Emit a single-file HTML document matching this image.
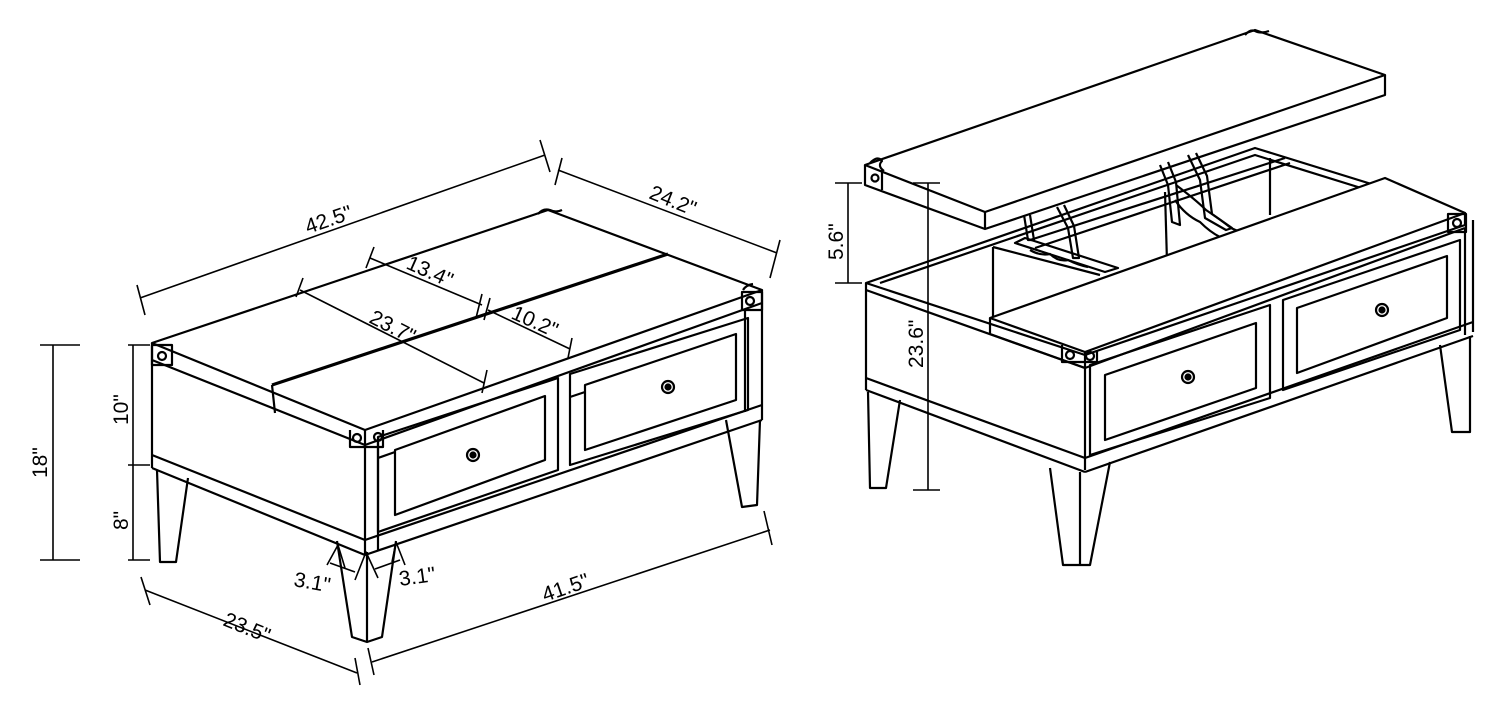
<!DOCTYPE html>
<html><head><meta charset="utf-8"><style>
html,body{margin:0;padding:0;background:#fff;}
svg{display:block}
text{font-family:"Liberation Sans",Arial,sans-serif;font-size:21px;fill:#000}
</style></head><body>
<svg width="1500" height="720" viewBox="0 0 1500 720" xmlns="http://www.w3.org/2000/svg">
<g fill="none" stroke="#000" stroke-width="2.2" stroke-linejoin="round">
<!-- ===== LEFT TABLE ===== -->
<polygon points="152,343 548,210 762,290 365,430" fill="#fff"/>
<line x1="272" y1="385" x2="668" y2="254" stroke-width="3.2"/>
<polyline points="152,343 152,360 365,445 762,303 762,290"/>
<line x1="365" y1="430" x2="365" y2="445"/>
<line x1="272" y1="385" x2="275" y2="413"/>
<rect x="152" y="345" width="20" height="20"/>
<circle cx="162" cy="356" r="4"/>
<path d="M350,430 L350,447 L383,447 L383,430"/>
<circle cx="357" cy="438" r="4"/><circle cx="378" cy="437" r="4"/>
<rect x="742" y="292" width="20" height="18"/>
<circle cx="750" cy="301" r="4"/>
<path d="M538,214 q5,-6 12,-4 q6,3 12,0"/>
<path d="M743,290 q3,-5 10,-6"/>
<line x1="152" y1="360" x2="152" y2="468"/>
<line x1="365" y1="445" x2="365" y2="555"/>
<line x1="152" y1="455" x2="365" y2="540"/>
<line x1="152" y1="468" x2="365" y2="555"/>
<line x1="378" y1="442" x2="378" y2="550"/>
<line x1="762" y1="303" x2="762" y2="420"/>
<line x1="365" y1="540" x2="762" y2="405"/>
<line x1="365" y1="555" x2="762" y2="420"/>
<line x1="745" y1="310" x2="745" y2="412"/>
<polygon points="378,437 558,378 558,470 378,532"/>
<polygon points="395,450 545,396 545,460 395,515"/>
<polygon points="570,374 748,318 748,410 570,465"/>
<polygon points="585,385 736,334 736,400 585,450"/>
<line x1="378" y1="458" x2="395" y2="452"/>
<line x1="570" y1="397" x2="585" y2="392"/>
<circle cx="473" cy="455" r="6"/><circle cx="473" cy="455" r="2.5" fill="#000"/>
<circle cx="668" cy="387" r="6"/><circle cx="668" cy="387" r="2.5" fill="#000"/>
<polyline points="157,470 160,562 176,562 188,478"/>
<polyline points="337,541 352,637 367,642 382,637 396,541"/>
<line x1="367" y1="552" x2="367" y2="642"/>
<polyline points="726,420 742,507 757,505 760,420"/>
<g stroke-width="1.6">
<line x1="140" y1="298" x2="545" y2="155"/>
<line x1="137" y1="285" x2="145" y2="315"/><line x1="540" y1="140" x2="550" y2="172"/>
<line x1="558" y1="170" x2="777" y2="253"/>
<line x1="562" y1="158" x2="555" y2="185"/><line x1="780" y1="240" x2="770" y2="278"/>
<line x1="370" y1="258" x2="482" y2="305"/>
<line x1="374" y1="247" x2="366" y2="268"/><line x1="482" y1="294" x2="476" y2="318"/>
<line x1="300" y1="290" x2="484" y2="383"/>
<line x1="303" y1="278" x2="296" y2="297"/><line x1="487" y1="370" x2="482" y2="393"/>
<line x1="488" y1="310" x2="570" y2="349"/>
<line x1="490" y1="298" x2="484" y2="320"/><line x1="572" y1="338" x2="568" y2="358"/>
<line x1="53" y1="345" x2="53" y2="560"/>
<line x1="40" y1="345" x2="80" y2="345"/><line x1="40" y1="560" x2="80" y2="560"/>
<line x1="133" y1="345" x2="133" y2="560"/>
<line x1="128" y1="345" x2="150" y2="345"/><line x1="128" y1="465" x2="150" y2="465"/><line x1="128" y1="560" x2="150" y2="560"/>
<line x1="145" y1="590" x2="357" y2="673"/>
<line x1="141" y1="577" x2="150" y2="605"/><line x1="355" y1="658" x2="360" y2="685"/>
<line x1="372" y1="662" x2="770" y2="530"/>
<line x1="368" y1="648" x2="374" y2="675"/><line x1="764" y1="511" x2="772" y2="545"/>
<line x1="330" y1="563" x2="355" y2="572"/><line x1="375" y1="569" x2="400" y2="560"/>
<polyline points="327,565 338,545 345,568"/><polyline points="355,580 366,552 378,578"/>
<polyline points="392,562 396,542 405,565"/>
</g>
<!-- ===== RIGHT TABLE ===== -->
<polygon points="866,283 1255,148 1465,213 1465,225 1085,355 866,283" fill="#fff"/>
<polyline points="880,283 1255,155 1390,197"/>
<line x1="866" y1="283" x2="866" y2="390"/>
<line x1="866" y1="290" x2="1085" y2="368"/>
<line x1="993" y1="247" x2="993" y2="318"/>
<line x1="993" y1="247" x2="1100" y2="275"/>
<path d="M1015,243 L1105,272 L1118,268 L1025,238 Z"/>
<path d="M1030,250 q10,6 20,4 q8,8 18,6 q10,5 20,7"/>
<line x1="1165" y1="192" x2="1167" y2="262"/>
<line x1="1270" y1="158" x2="1270" y2="215"/>
<line x1="1030" y1="240" x2="1285" y2="158"/>
<line x1="1035" y1="248" x2="1290" y2="163"/>
<path d="M1176,185 q20,15 30,25 q15,10 25,18 q10,5 20,6"/>
<path d="M1175,200 q10,15 25,22 q10,10 20,15"/>
<path d="M1024,215 L1028,240 L1034,240 L1030,215"/>
<path d="M1057,207 L1068,228 L1073,258 L1079,258 L1074,226 L1064,205"/>
<path d="M1160,165 L1168,185 L1172,222 L1180,225 L1176,182 L1168,162"/>
<path d="M1188,155 L1200,180 L1205,218 L1226,230 L1232,228 L1212,214 L1207,176 L1196,153"/>
<polygon points="990,318 1385,178 1465,213 1085,352" fill="#fff"/>
<polyline points="990,318 990,334 1085,368 1465,228"/>
<line x1="1085" y1="352" x2="1085" y2="368"/>
<path d="M1062,345 L1062,362 L1097,362 L1097,350"/>
<circle cx="1070" cy="355" r="4"/><circle cx="1090" cy="356" r="4"/>
<rect x="1448" y="214" width="18" height="18"/><circle cx="1457" cy="223" r="4"/>
<line x1="1085" y1="368" x2="1085" y2="470"/>
<line x1="1465" y1="228" x2="1465" y2="335"/>
<line x1="1473" y1="220" x2="1473" y2="332"/>
<line x1="1085" y1="458" x2="1473" y2="322"/>
<line x1="1085" y1="472" x2="1473" y2="336"/>
<line x1="866" y1="378" x2="1085" y2="458"/>
<line x1="866" y1="390" x2="1085" y2="472"/>
<polygon points="1090,365 1270,305 1270,398 1090,455"/>
<polygon points="1105,375 1256,323 1256,388 1105,440"/>
<polygon points="1283,300 1460,240 1460,330 1283,390"/>
<polygon points="1297,308 1447,256 1447,318 1297,373"/>
<circle cx="1188" cy="377" r="6"/><circle cx="1188" cy="377" r="2.5" fill="#000"/>
<circle cx="1382" cy="310" r="6"/><circle cx="1382" cy="310" r="2.5" fill="#000"/>
<polyline points="868,392 870,488 886,488 900,400"/>
<polyline points="1050,468 1063,565 1090,565 1110,462"/>
<line x1="1080" y1="472" x2="1080" y2="565"/>
<polyline points="1440,345 1452,432 1470,432 1470,336"/>
<polygon points="865,165 1255,30 1385,75 985,212" fill="#fff"/>
<polyline points="865,165 865,185 985,229 1385,95 1385,75"/>
<line x1="985" y1="212" x2="985" y2="229"/>
<line x1="882" y1="170" x2="882" y2="190"/>
<circle cx="875" cy="178" r="3.5"/>
<path d="M870,163 q8,-8 12,-2 q-5,5 2,10"/>
<path d="M1245,35 q5,-6 10,-4 q6,3 14,0"/>
<g stroke-width="1.6">
<line x1="848" y1="183" x2="848" y2="283"/>
<line x1="835" y1="183" x2="862" y2="183"/><line x1="835" y1="283" x2="862" y2="283"/>
<line x1="928" y1="183" x2="928" y2="490"/>
<line x1="913" y1="183" x2="940" y2="183"/><line x1="913" y1="490" x2="940" y2="490"/>
</g>
</g>
<text transform="translate(308,234) rotate(-19)">42.5"</text>
<text transform="translate(648,198) rotate(22)">24.2"</text>
<text transform="translate(405,268) rotate(24)">13.4"</text>
<text transform="translate(368,322) rotate(27)">23.7"</text>
<text transform="translate(510,318) rotate(24)">10.2"</text>
<text transform="translate(47,478) rotate(-90)">18"</text>
<text transform="translate(128,425) rotate(-90)">10"</text>
<text transform="translate(128,530) rotate(-90)">8"</text>
<text transform="translate(222,625) rotate(22)">23.5"</text>
<text transform="translate(545,602) rotate(-19)">41.5"</text>
<text transform="translate(293,586) rotate(10)">3.1"</text>
<text transform="translate(400,586) rotate(-8)">3.1"</text>
<text transform="translate(843,260) rotate(-90)">5.6"</text>
<text transform="translate(923,368) rotate(-90)">23.6"</text>
</svg>
</body></html>
